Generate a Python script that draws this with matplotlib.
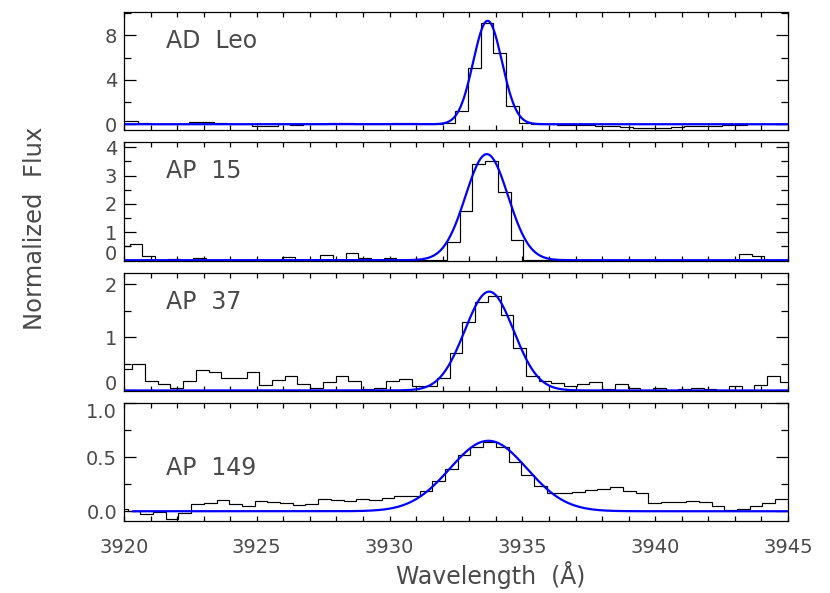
import numpy as np
import matplotlib
matplotlib.use('Agg')
import matplotlib.pyplot as plt
from matplotlib.ticker import MultipleLocator

# nomes das estrelas (um painel por estrela)
nomes = ['AD  Leo', 'AP  15', 'AP  37', 'AP  149']

# grade em comprimento de onda: largura do bin e inicio de cada espectro
largura_bin = 0.478
inicio_wl = [3919.567, 3919.736, 3919.838, 3919.661]

# fluxo normalizado (histograma)
fluxo_adleo = [0.25, 0.25, 0.15, 0.05, 0.0, 0.05, 0.18, 0.24, 0.10, 0.03,
               0.0, -0.15, -0.12, 0.0, -0.10, 0.0, 0.03, 0.15, 0.08, 0.02,
               0.0, 0.02, 0.15, 0.08, 0.02, 0.03, 0.08, 1.15, 5.05, 9.15,
               6.43, 1.66, 0.10, 0.05, 0.02, -0.05, -0.05, -0.10, -0.20, -0.20,
               -0.22, -0.30, -0.30, -0.30, -0.28, -0.20, -0.20, -0.12, -0.10, -0.10,
               0.0, 0.03, 0.05, 0.05]
fluxo_ap15 = [0.50, 0.58, 0.14, 0.0, 0.06, 0.0, 0.09, 0.02, 0.0, 0.0,
              0.0, 0.0, 0.0, 0.13, 0.0, 0.0, 0.19, 0.0, 0.27, 0.08,
              0.0, 0.09, 0.0, 0.0, 0.0, 0.0, 0.64, 1.73, 3.40, 3.53,
              2.41, 0.73, 0.0, 0.0, 0.0, 0.0, 0.0, 0.0, 0.0, 0.0,
              0.0, 0.0, 0.0, 0.0, 0.0, 0.0, 0.0, 0.0, 0.0, 0.23,
              0.15, 0.0, 0.0]
fluxo_ap37 = [0.40, 0.49, 0.17, 0.12, 0.04, 0.17, 0.38, 0.34, 0.23, 0.23,
              0.34, 0.11, 0.19, 0.27, 0.13, 0.04, 0.15, 0.27, 0.17, 0.02,
              0.04, 0.17, 0.21, 0.09, 0.09, 0.24, 0.70, 1.29, 1.66, 1.78,
              1.42, 0.79, 0.27, 0.17, 0.14, 0.09, 0.12, 0.16, 0.03, 0.12,
              0.04, 0.00, 0.04, 0.00, 0.03, 0.04, 0.03, 0.00, 0.09, 0.00,
              0.11, 0.27, 0.15]
fluxo_ap149 = [0.02, 0.0, -0.03, -0.01, -0.07, -0.015, 0.07, 0.08, 0.10, 0.07,
               0.045, 0.09, 0.085, 0.075, 0.055, 0.063, 0.11, 0.10, 0.094, 0.11,
               0.10, 0.124, 0.14, 0.14, 0.19, 0.275, 0.39, 0.52, 0.59, 0.64,
               0.59, 0.45, 0.33, 0.235, 0.166, 0.166, 0.175, 0.196, 0.205, 0.22,
               0.19, 0.166, 0.075, 0.085, 0.085, 0.094, 0.085, 0.045, 0.01, 0.024,
               0.045, 0.075, 0.11, 0.07]
fluxos = [fluxo_adleo, fluxo_ap15, fluxo_ap37, fluxo_ap149]

# parametros do ajuste gaussiano (linha azul)
ajuste_amp = [9.3, 3.76, 1.86, 0.65]
ajuste_centro = [3933.69, 3933.66, 3933.75, 3933.72]
ajuste_sigma = [0.54, 0.80, 0.92, 1.45]
ajuste_inicio = [3920.0, 3920.0, 3920.0, 3920.35]

# eixos: limites, ticks e rotulos de cada painel
limites_y = [(-0.52, 10.14), (-0.01, 4.19), (-0.01, 2.22), (-0.09, 1.003)]
ticks_y = [[0, 4, 8], [0, 1, 2, 3, 4], [0, 1, 2], [0.0, 0.5, 1.0]]
rotulos_y = [['0', '4', '8'], ['0', '1', '2', '3', '4'], ['0', '1', '2'],
             ['0.0', '0.5', '1.0']]
y_minor = [2, 0.5, 0.5, 0.25]
pos_nome = [0.696, 0.694, 0.696, 0.386]

cor_texto = '#4a4a4a'
plt.rcParams['font.family'] = 'DejaVu Sans'

fig = plt.figure(figsize=(8.3, 5.93), dpi=100)
esq, larg = 124 / 830, 664 / 830
bases_px = [130, 260.5, 391, 521]
alt = 118.5 / 593

for i in range(4):
    ax = fig.add_axes([esq, 1 - bases_px[i] / 593, larg, alt])
    bordas = inicio_wl[i] + largura_bin * np.arange(len(fluxos[i]) + 1)
    ax.stairs(fluxos[i], bordas, color='black', lw=0.85)

    wl = np.linspace(ajuste_inicio[i], 3945, 800)
    modelo = ajuste_amp[i] * np.exp(-(wl - ajuste_centro[i]) ** 2 / (2 * ajuste_sigma[i] ** 2))
    ax.plot(wl, modelo, color='#0000ff', lw=1.6)

    ax.set_xlim(3920, 3945)
    ax.set_ylim(*limites_y[i])
    ax.xaxis.set_major_locator(MultipleLocator(5))
    ax.xaxis.set_minor_locator(MultipleLocator(1))
    ax.set_yticks(ticks_y[i])
    ax.set_yticklabels(rotulos_y[i])
    ax.yaxis.set_minor_locator(MultipleLocator(y_minor[i]))
    ax.tick_params(which='both', direction='in', top=True, right=True,
                   labelsize=14, labelcolor=cor_texto, width=0.9)
    ax.tick_params(axis='x', which='both', length=3.5, pad=12)
    ax.tick_params(axis='y', which='major', length=8.5, pad=5)
    ax.tick_params(axis='y', which='minor', length=5)
    for s in ax.spines.values():
        s.set_linewidth(0.9)
    if i < 3:
        ax.tick_params(axis='x', labelbottom=False)

    # rotulos nas bordas ficam para dentro do painel (como no IDL)
    lo, hi = limites_y[i]
    for val, lab in zip(ticks_y[i], ax.get_yticklabels()):
        if abs(val - lo) < 0.03 * (hi - lo):
            lab.set_verticalalignment('baseline')
        elif abs(val - hi) < 0.03 * (hi - lo):
            lab.set_verticalalignment('top')

    ax.text(0.063, pos_nome[i], nomes[i], transform=ax.transAxes,
            fontsize=17, color=cor_texto, va='baseline', ha='left')

fig.text(491 / 830, 1 - 575 / 593, 'Wavelength  (Å)', fontsize=17,
         color=cor_texto, ha='center', va='center')
fig.text(35 / 830, 1 - 228 / 593, 'Normalized  Flux', fontsize=17.5,
         color=cor_texto, ha='center', va='center', rotation=90)

fig.savefig('out.png', dpi=100)
